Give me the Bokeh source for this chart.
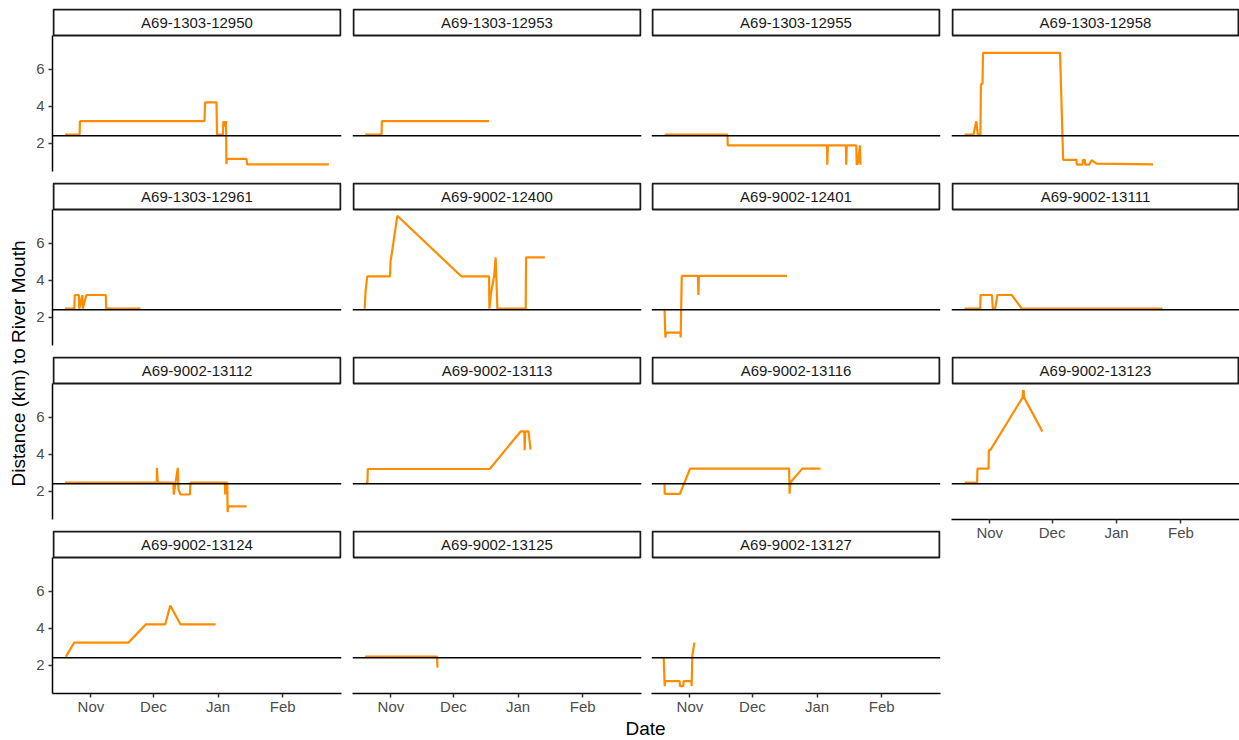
import math
import pandas as pd
from bokeh.plotting import figure
from bokeh.layouts import row, column
from bokeh.models import (Range1d, FixedTicker, DatetimeTickFormatter, Span,
                          ColumnDataSource)
from bokeh.embed import file_html
from bokeh.resources import INLINE
from bokeh.core.properties import value

# ---------------- data ----------------
tags = ["A69-1303-12950", "A69-1303-12953", "A69-1303-12955", "A69-1303-12958",
        "A69-1303-12961", "A69-9002-12400", "A69-9002-12401", "A69-9002-13111",
        "A69-9002-13112", "A69-9002-13113", "A69-9002-13116", "A69-9002-13123",
        "A69-9002-13124", "A69-9002-13125", "A69-9002-13127"]

t_12950 = ["2017-10-19 14:00", "2017-10-26 14:00", "2017-10-26 18:00", "2017-12-25 12:00",
           "2017-12-25 18:00", "2017-12-31 06:00", "2017-12-31 12:00", "2018-01-03 08:00",
           "2018-01-03 12:00", "2018-01-03 20:00", "2018-01-04 04:00", "2018-01-04 12:00",
           "2018-01-04 20:00", "2018-01-05 00:00", "2018-01-05 06:00", "2018-01-14 16:00",
           "2018-01-14 22:00", "2018-02-23 04:00"]
d_12950 = [2.46, 2.46, 3.19, 3.19, 4.21, 4.21, 2.46, 2.46, 3.19, 2.9, 3.19, 2.9,
           3.19, 0.88, 1.15, 1.15, 0.85, 0.85]

t_12953 = ["2017-10-19 14:00", "2017-10-27 12:00", "2017-10-27 16:00", "2017-12-18 02:00"]
d_12953 = [2.46, 2.46, 3.19, 3.19]

t_12955 = ["2017-10-19 22:00", "2017-11-19 00:00", "2017-11-19 04:00", "2018-01-05 18:00",
           "2018-01-05 22:00", "2018-01-06 04:00", "2018-01-14 20:00", "2018-01-15 00:00",
           "2018-01-15 06:00", "2018-01-19 20:00", "2018-01-20 00:00", "2018-01-20 12:00",
           "2018-01-21 14:00", "2018-01-21 19:00"]
d_12955 = [2.46, 2.46, 1.88, 1.88, 0.84, 1.88, 1.88, 0.84, 1.88, 1.88, 0.84, 0.9,
           1.88, 0.84]

t_12958 = ["2017-10-19 22:00", "2017-10-24 04:00", "2017-10-25 12:00", "2017-10-26 06:00",
           "2017-10-27 12:00", "2017-10-27 18:00", "2017-10-28 12:00", "2017-10-28 18:00",
           "2017-12-04 20:00", "2017-12-06 08:00", "2017-12-12 18:00", "2017-12-12 22:00",
           "2017-12-15 16:00", "2017-12-15 20:00", "2017-12-16 18:00", "2017-12-16 22:00",
           "2017-12-18 20:00", "2017-12-20 00:00", "2017-12-22 10:00", "2018-01-18 14:00"]
d_12958 = [2.46, 2.46, 3.19, 2.46, 2.46, 5.2, 5.2, 6.88, 6.88, 1.10, 1.10, 0.84,
           0.84, 1.10, 1.10, 0.84, 0.84, 1.08, 0.90, 0.86]

t_12961 = ["2017-10-19 14:00", "2017-10-24 02:00", "2017-10-24 06:00", "2017-10-26 06:00",
           "2017-10-26 10:00", "2017-10-27 22:00", "2017-10-28 02:00", "2017-10-29 20:00",
           "2017-11-08 04:00", "2017-11-08 08:00", "2017-11-24 20:00"]
d_12961 = [2.46, 2.46, 3.2, 3.2, 2.46, 3.2, 2.46, 3.2, 3.2, 2.46, 2.46]

t_12400 = ["2017-10-19 10:00", "2017-10-19 20:00", "2017-10-20 16:00", "2017-10-31 14:00",
           "2017-10-31 20:00", "2017-11-01 04:00", "2017-11-04 02:00", "2017-12-04 18:00",
           "2017-12-18 02:00", "2017-12-18 06:00", "2017-12-19 00:00", "2017-12-20 12:00",
           "2017-12-21 06:00", "2017-12-22 02:00", "2018-01-04 16:00", "2018-01-04 20:00",
           "2018-01-13 20:00"]
d_12400 = [2.46, 3.4, 4.21, 4.21, 5.0, 5.23, 7.48, 4.21, 4.21, 2.46, 3.3, 4.2,
           5.23, 2.46, 2.46, 5.23, 5.23]

t_12401 = ["2017-10-19 20:00", "2017-10-20 06:00", "2017-10-20 12:00", "2017-10-27 10:00",
           "2017-10-27 14:00", "2017-10-28 02:00", "2017-11-04 20:00", "2017-11-05 02:00",
           "2017-11-05 08:00", "2017-12-17 14:00"]
d_12401 = [2.46, 0.90, 1.17, 1.17, 0.90, 4.23, 4.23, 3.2, 4.23, 4.23]

t_13111 = ["2017-10-19 20:00", "2017-10-27 10:00", "2017-10-27 14:00", "2017-11-02 00:00",
           "2017-11-02 12:00", "2017-11-03 14:00", "2017-11-04 16:00", "2017-11-11 14:00",
           "2017-11-16 10:00", "2018-01-23 02:00"]
d_13111 = [2.46, 2.46, 3.2, 3.2, 2.46, 2.46, 3.2, 3.2, 2.46, 2.46]

t_13112 = ["2017-10-19 14:00", "2017-12-02 14:00", "2017-12-02 16:00", "2017-12-03 02:00",
           "2017-12-10 14:00", "2017-12-10 18:00", "2017-12-11 12:00", "2017-12-12 16:00",
           "2017-12-13 00:00", "2017-12-14 00:00", "2017-12-18 12:00", "2017-12-18 18:00",
           "2018-01-04 06:00", "2018-01-04 10:00", "2018-01-04 16:00", "2018-01-05 10:00",
           "2018-01-05 14:00", "2018-01-05 20:00", "2018-01-14 16:00"]
d_13112 = [2.46, 2.46, 3.26, 2.46, 2.46, 1.82, 2.4, 3.26, 2.1, 1.82, 1.82, 2.46,
           2.46, 1.82, 2.46, 2.46, 0.87, 1.18, 1.18]

t_13113 = ["2017-10-20 00:00", "2017-10-20 18:00", "2017-10-20 22:00", "2017-12-18 10:00",
           "2018-01-02 06:00", "2018-01-04 00:00", "2018-01-04 04:00", "2018-01-04 10:00",
           "2018-01-06 00:00", "2018-01-07 00:00"]
d_13113 = [2.46, 2.46, 3.2, 3.2, 5.23, 5.23, 4.21, 5.23, 5.23, 4.25]

t_13116 = ["2017-10-19 20:00", "2017-10-19 22:00", "2017-10-27 06:00", "2017-11-01 02:00",
           "2017-12-18 14:00", "2017-12-18 20:00", "2017-12-19 02:00", "2017-12-24 22:00",
           "2018-01-02 16:00"]
d_13116 = [2.46, 1.86, 1.86, 3.22, 3.22, 1.86, 2.46, 3.22, 3.22]

t_13123 = ["2017-10-20 00:00", "2017-10-25 22:00", "2017-10-26 02:00", "2017-10-31 10:00",
           "2017-10-31 14:00", "2017-11-01 08:00", "2017-11-16 20:00", "2017-11-17 00:00",
           "2017-11-17 04:00", "2017-11-17 08:00", "2017-11-17 12:00", "2017-11-26 08:00"]
d_13123 = [2.46, 2.46, 3.22, 3.22, 4.23, 4.23, 7.07, 7.47, 7.0, 7.47, 7.07, 5.23]

t_13124 = ["2017-10-20 00:00", "2017-10-24 00:00", "2017-11-19 00:00", "2017-11-27 10:00",
           "2017-12-06 16:00", "2017-12-09 02:00", "2017-12-13 22:00", "2017-12-30 20:00"]
d_13124 = [2.46, 3.22, 3.22, 4.21, 4.21, 5.23, 4.21, 4.21]

t_13125 = ["2017-10-19 14:00", "2017-11-23 04:00", "2017-11-23 08:00"]
d_13125 = [2.46, 2.46, 1.87]

t_13127 = ["2017-10-19 10:00", "2017-10-19 22:00", "2017-10-20 04:00", "2017-10-27 02:00",
           "2017-10-27 06:00", "2017-10-28 20:00", "2017-10-29 00:00", "2017-11-01 16:00",
           "2017-11-01 20:00", "2017-11-02 04:00", "2017-11-03 04:00"]
d_13127 = [2.45, 0.87, 1.14, 1.14, 0.87, 0.87, 1.14, 1.14, 0.87, 2.5, 3.22]

series = {
    "A69-1303-12950": (t_12950, d_12950), "A69-1303-12953": (t_12953, d_12953),
    "A69-1303-12955": (t_12955, d_12955), "A69-1303-12958": (t_12958, d_12958),
    "A69-1303-12961": (t_12961, d_12961), "A69-9002-12400": (t_12400, d_12400),
    "A69-9002-12401": (t_12401, d_12401), "A69-9002-13111": (t_13111, d_13111),
    "A69-9002-13112": (t_13112, d_13112), "A69-9002-13113": (t_13113, d_13113),
    "A69-9002-13116": (t_13116, d_13116), "A69-9002-13123": (t_13123, d_13123),
    "A69-9002-13124": (t_13124, d_13124), "A69-9002-13125": (t_13125, d_13125),
    "A69-9002-13127": (t_13127, d_13127),
}

month_ticks = ["2017-11-01", "2017-12-01", "2018-01-01", "2018-02-01"]
y_ticks = [2, 4, 6]
threshold_km = 2.4
x_title = "Date"
y_title = "Distance (km) to River Mouth"

# ---------------- scales ----------------
X0 = pd.Timestamp("2017-10-13 14:00")
X1 = pd.Timestamp("2018-03-01 05:00")
Y0, Y1 = 0.47, 7.82          # panel range
YS = 9.28                    # top of strip area

FONT = value("Liberation Sans")
ORANGE = "#FF8C00"

YLAB_W = 32
FW = [289, 289, 289, 288]
BL = [20, 6, 5, 5]
BR = [5, 5, 6, 0]
FH = 163

tick_ms = [pd.Timestamp(m).value // 10**6 for m in month_ticks]


def panel(i, name):
    r, c = divmod(i, 4)
    show_x = (r == 3) or (r == 2 and c == 3)
    p = figure(title=None, toolbar_location=None, tools="", output_backend="svg",
               frame_width=FW[c], frame_height=FH,
               min_border_left=BL[c], min_border_right=BR[c],
               min_border_top=8 if r == 0 else 7,
               min_border_bottom=22 if show_x else 4,
               x_range=Range1d(X0, X1), y_range=Range1d(Y0, YS),
               x_axis_type="datetime" if show_x else None,
               y_axis_type="linear" if c == 0 else None,
               background_fill_color="white", border_fill_color="white",
               outline_line_color=None)
    for g in p.grid:
        g.visible = False

    # strip
    dx = (X1 - X0) / FW[c]
    dy = (YS - Y0) / FH
    p.quad(left=[X0 + dx], right=[X1 - dx], bottom=[Y1], top=[YS - dy],
           fill_color="white", line_color="#1A1A1A", line_width=2)
    p.text(x=[X0 + (X1 - X0) / 2], y=[(Y1 + YS) / 2 - 0.03], text=[name],
           text_align="center", text_baseline="middle", text_font=FONT,
           text_font_size="15px", text_color="#1A1A1A")

    p.add_layout(Span(location=threshold_km, dimension="width",
                      line_color="black", line_width=1.6))

    t, d = series[name]
    src = ColumnDataSource(dict(x=pd.to_datetime(t), y=d))
    p.line("x", "y", source=src, line_color=ORANGE, line_width=2.2)

    if show_x:
        ax = p.xaxis[0]
        ax.ticker = FixedTicker(ticks=tick_ms)
        ax.formatter = DatetimeTickFormatter(days="%b", months="%b", years="%b",
                                             hours="%b", hourmin="%b")
        ax.major_tick_in = 0
        ax.major_tick_out = 4
        ax.minor_tick_line_color = None
        ax.axis_line_width = 1.5
        ax.axis_line_color = "black"
        ax.major_tick_line_width = 1.5
        ax.major_tick_line_color = "#333333"
        ax.major_label_text_font = "Liberation Sans"
        ax.major_label_text_font_size = "15px"
        ax.major_label_text_color = "#4D4D4D"
        ax.major_label_standoff = 0
    if c == 0:
        ay = p.yaxis[0]
        ay.ticker = FixedTicker(ticks=y_ticks)
        ay.bounds = (Y0, Y1)
        ay.major_tick_in = 0
        ay.major_tick_out = 4
        ay.minor_tick_line_color = None
        ay.axis_line_width = 1.5
        ay.axis_line_color = "black"
        ay.major_tick_line_width = 1.5
        ay.major_tick_line_color = "#333333"
        ay.major_label_text_font = "Liberation Sans"
        ay.major_label_text_font_size = "15px"
        ay.major_label_text_color = "#4D4D4D"
        ay.major_label_standoff = 4
    return p


cols = [[], [], [], []]
for i, name in enumerate(tags):
    cols[i % 4].append(panel(i, name))

# axis titles
ylab = figure(width=YLAB_W, height=740, x_range=Range1d(0, YLAB_W), y_range=Range1d(0, 740),
              x_axis_type=None, y_axis_type=None, toolbar_location=None, tools="",
              output_backend="svg", title=None, outline_line_color=None,
              min_border_left=0, min_border_right=0, min_border_top=0, min_border_bottom=0)
ylab.text(x=[18], y=[740 - 363], text=[y_title], angle=math.pi / 2,
          text_align="center", text_baseline="middle", text_font=FONT,
          text_font_size="19px", text_color="black")

xlab = figure(width=1239 - YLAB_W, height=25, x_range=Range1d(YLAB_W, 1239),
              y_range=Range1d(0, 25),
              x_axis_type=None, y_axis_type=None, toolbar_location=None, tools="",
              output_backend="svg", title=None, outline_line_color=None,
              min_border_left=0, min_border_right=0, min_border_top=0, min_border_bottom=0)
xlab.text(x=[645], y=[14], text=[x_title], text_align="center", text_baseline="middle",
          text_font=FONT, text_font_size="19px", text_color="black")

grid = row(*[column(*c) for c in cols])
layout = row(ylab, column(grid, xlab))

open("out.html", "w").write(file_html(layout, INLINE))
